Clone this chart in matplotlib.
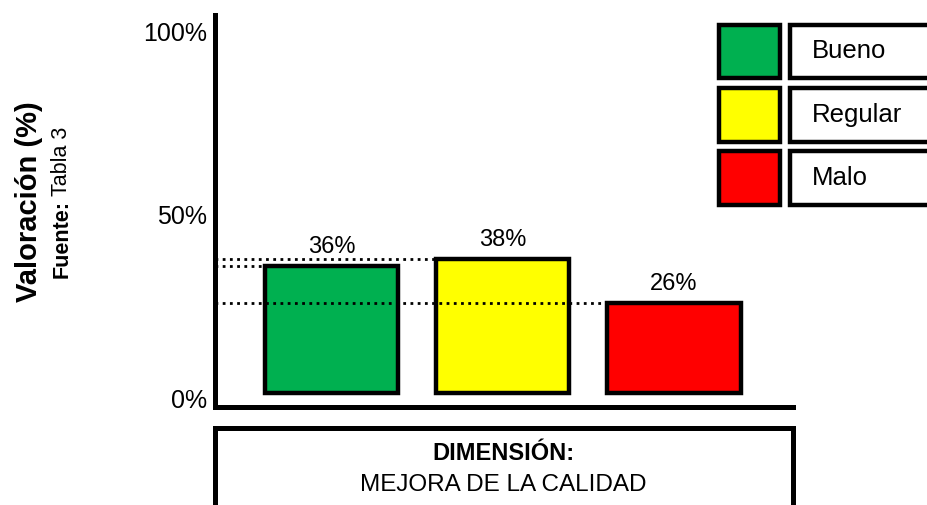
import matplotlib
matplotlib.use("Agg")
import matplotlib.pyplot as plt
from matplotlib.patches import Rectangle

plt.rcParams['font.family'] = ['Liberation Sans', 'DejaVu Sans']

# datos
categorias = ["Bueno", "Regular", "Malo"]
valores = [36, 38, 26]
colores = ["#00B050", "#FFFF00", "#FF0000"]
ticks_y = [0, 50, 100]
etiquetas_y = ["0%", "50%", "100%"]

W, H = 928, 505
fig = plt.figure(figsize=(W / 100, H / 100), dpi=100)


def fx(x):
    return x / W


def fy(y):
    return 1 - y / H


ax = fig.add_axes([fx(215), fy(407), fx(793) - fx(215), fy(15) - fy(407)])

base = 1.4
ancho = 0.78
xs = list(range(len(valores)))
alturas = [v - base for v in valores]
ax.bar(xs, alturas, bottom=base, width=ancho, color=colores,
       edgecolor="black", linewidth=3.2, zorder=2)

xmin = -0.681
ax.set_xlim(xmin, 2.696)
ax.set_ylim(-2.45, 104.4)

# lineas punteadas de referencia
for x, v in zip(xs, valores):
    ax.plot([xmin, x - ancho / 2], [v, v], color="black",
            linestyle=(0, (1, 1.6)), linewidth=2, zorder=3)
    ax.text(x, v + 2.2, f"{v}%", ha="center", va="bottom", fontsize=17)

ax.set_yticks(ticks_y)
ax.set_yticklabels(etiquetas_y, fontsize=18)
ax.set_xticks([])
ax.tick_params(axis="y", length=0, pad=6)
for s in ["top", "right"]:
    ax.spines[s].set_visible(False)
for s in ["left", "bottom"]:
    ax.spines[s].set_linewidth(3.6)

# titulo del eje
fig.text(fx(29), fy(202), "Valoración (%)", rotation=90, ha="center",
         va="center", fontsize=21, fontweight="bold")
fig.text(fx(62), fy(278), "Fuente:", rotation=90, ha="center",
         va="bottom", fontsize=15.5, fontweight="bold")
fig.text(fx(62), fy(127), "Tabla 3", rotation=90, ha="center",
         va="top", fontsize=15.5)

# leyenda hecha a mano
filas = [(25, 78), (88, 142), (151, 205)]
for (y0, y1), nombre, col in zip(filas, categorias, colores):
    fig.patches.append(Rectangle((fx(719), fy(y1)), fx(780) - fx(719), fy(y0) - fy(y1),
                                 transform=fig.transFigure, facecolor=col,
                                 edgecolor="black", linewidth=3.2))
    fig.patches.append(Rectangle((fx(790), fy(y1)), fx(960) - fx(790), fy(y0) - fy(y1),
                                 transform=fig.transFigure, facecolor="white",
                                 edgecolor="black", linewidth=3.2))
    fig.text(fx(812), fy((y0 + y1) / 2), nombre, ha="left", va="center",
             fontsize=18.5)

# caja inferior
fig.patches.append(Rectangle((fx(215), fy(540)), fx(793) - fx(215), fy(428) - fy(540),
                             transform=fig.transFigure, facecolor="white",
                             edgecolor="black", linewidth=3.6))
fig.text(fx(503), fy(453), "DIMENSIÓN:", ha="center", va="center",
         fontsize=17, fontweight="bold")
fig.text(fx(503), fy(485), "MEJORA DE LA CALIDAD", ha="center", va="center",
         fontsize=17.5)

fig.savefig("out.png", dpi=100)
